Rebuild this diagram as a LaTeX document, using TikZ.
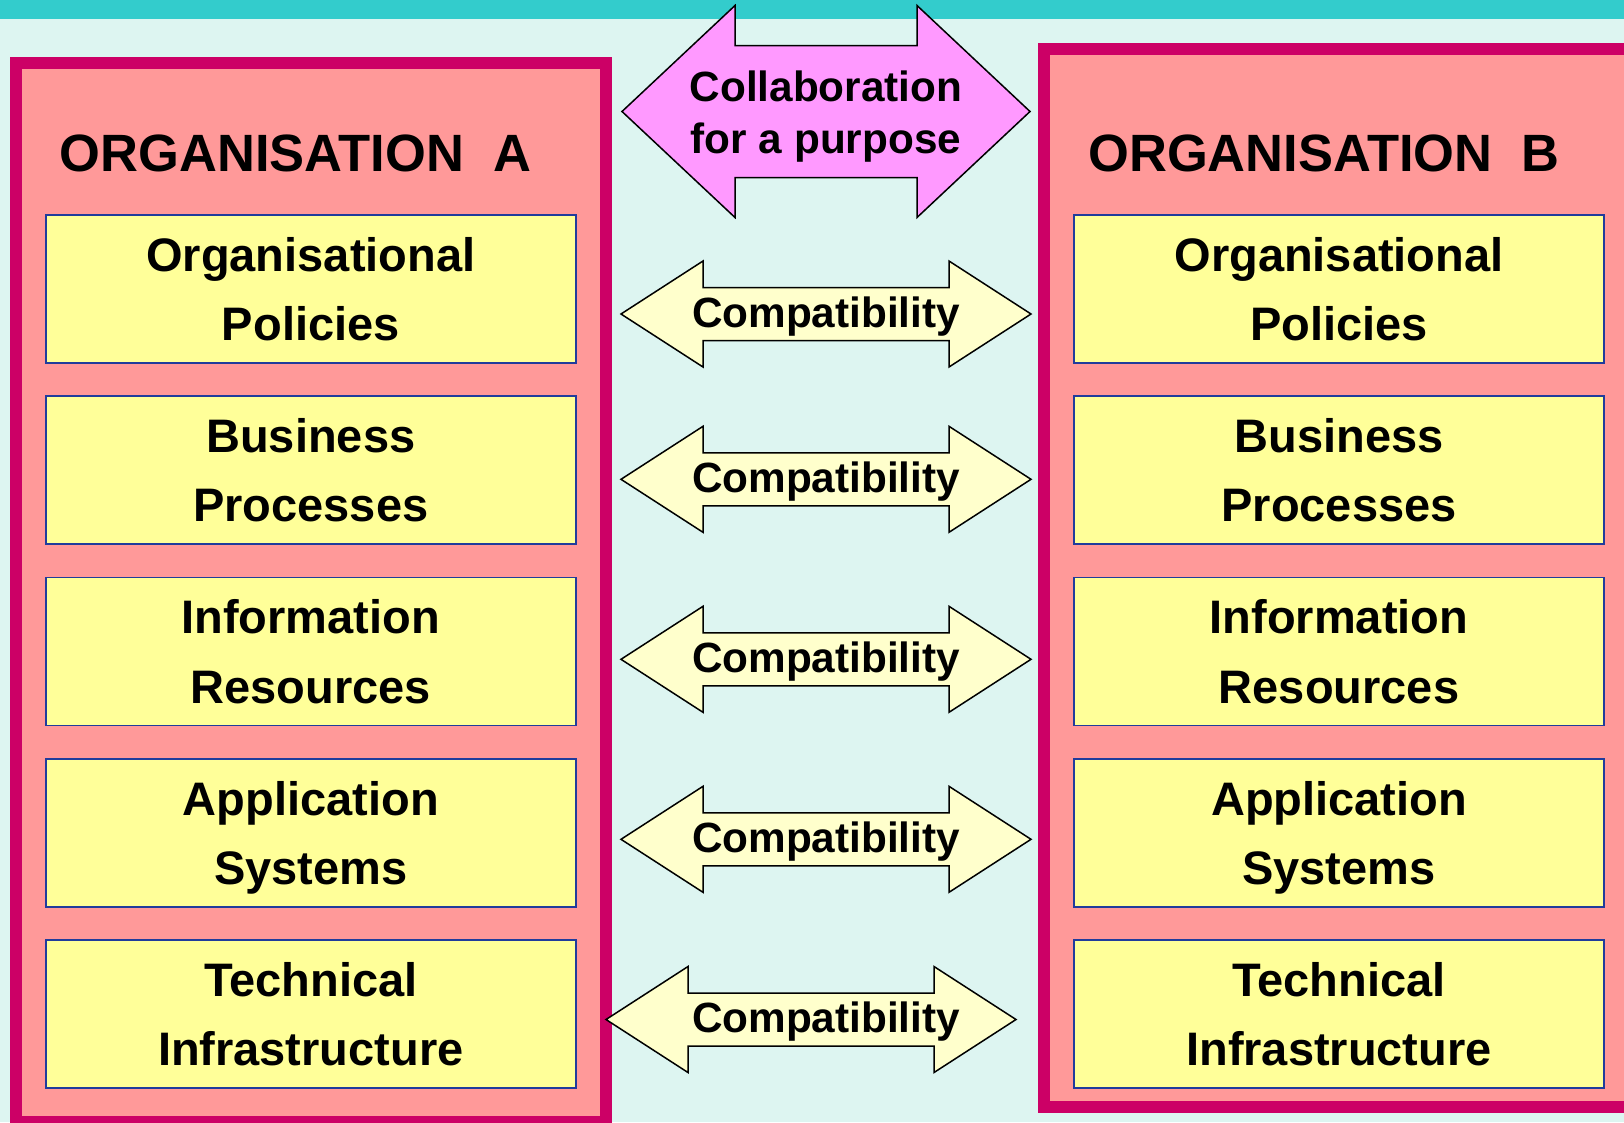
\documentclass[tikz,border=0pt]{standalone}
\usepackage{fontspec}
\setmainfont{Liberation Sans}
\usepackage{tikz}
\usetikzlibrary{positioning}

\definecolor{barTeal}{HTML}{33CCCC}
\definecolor{paleBg}{HTML}{DDF5F1}
\definecolor{orgBorder}{HTML}{CC0066}
\definecolor{orgFill}{HTML}{FF9999}
\definecolor{layerFill}{HTML}{FFFF99}
\definecolor{layerBorder}{HTML}{203C9C}
\definecolor{collabFill}{HTML}{FF99FF}
\definecolor{compatFill}{HTML}{FFFFCC}

\begin{document}
\begin{tikzpicture}[x=1pt, y=-1pt]
  \tikzstyle{org} = [draw=orgBorder, line width=12pt, fill=orgFill, rectangle, inner sep=0pt];
  \tikzstyle{orgTitle} = [anchor=base, inner sep=0pt, font={\bfseries\fontsize{52.5}{60}\selectfont}];
  \tikzstyle{layer} = [draw=layerBorder, line width=1.8pt, fill=layerFill, rectangle, minimum width=530pt, minimum height=148pt, inner sep=0pt, align=center, text depth=0pt, node distance=181.4pt, font={\bfseries\fontsize{47}{69.3}\selectfont}];

  \tikzstyle{arrowEdge} = [draw=black, line width=1.5pt, line join=miter];
  \tikzstyle{compat} = [arrowEdge, fill=compatFill];
  \tikzstyle{collab} = [arrowEdge, fill=collabFill];
  \tikzstyle{arrowLabel} = [inner sep=0pt, align=center, text depth=0pt, yshift=2pt, font={\bfseries\fontsize{42.3}{51.5}\selectfont}];

  \useasboundingbox (0,0) rectangle (1624,1122);
  \clip (0,0) rectangle (1624,1122);
  \fill[paleBg] (0,0) rectangle (1624,1122);
  \fill[barTeal] (0,0) rectangle (1624,19);

  % the two organisations
  \node[org, minimum width=590pt, minimum height=1059pt] (orgA) at (311,592.5) {};
  \node[org, minimum width=596pt, minimum height=1058pt] (orgB) at (1342,577.5) {};

  \node[orgTitle] (titleA) at (295.5,171) {ORGANISATION~~A};
  \node[orgTitle] (titleB) at (1324,171) {ORGANISATION~~B};

  \node[layer] (A1) at (310.8,288.7) {Organisational\\Policies};
  \node[layer] (A2) [below of=A1] {Business\\Processes};
  \node[layer] (A3) [below of=A2] {Information\\Resources};
  \node[layer] (A4) [below of=A3] {Application\\Systems};
  \node[layer] (A5) [below of=A4] {Technical\\Infrastructure};

  \node[layer] (B1) at (1339,288.7) {Organisational\\Policies};
  \node[layer] (B2) [below of=B1] {Business\\Processes};
  \node[layer] (B3) [below of=B2] {Information\\Resources};
  \node[layer] (B4) [below of=B3] {Application\\Systems};
  \node[layer] (B5) [below of=B4] {Technical\\Infrastructure};

  % block arrows between them
  \coordinate (purpose) at (826,111.5);
  \coordinate (link1) at (826,314);
  \coordinate (link2) at (826,479.3);
  \coordinate (link3) at (826,659.3);
  \coordinate (link4) at (826,839.3);
  \coordinate (link5) at (811,1019.5);

  \draw[collab] (purpose) ++(-204,0) -- ++(113,-106) -- ++(0,40) -- ++(182,0) -- ++(0,-40) -- ++(113,106)
        -- ++(-113,106) -- ++(0,-40) -- ++(-182,0) -- ++(0,40) -- cycle;
  \draw[compat] (link1) ++(-205,0) -- ++(82,-53) -- ++(0,26.5) -- ++(246,0) -- ++(0,-26.5) -- ++(82,53)
        -- ++(-82,53) -- ++(0,-26.5) -- ++(-246,0) -- ++(0,26.5) -- cycle;
  \draw[compat] (link2) ++(-205,0) -- ++(82,-53) -- ++(0,26.5) -- ++(246,0) -- ++(0,-26.5) -- ++(82,53)
        -- ++(-82,53) -- ++(0,-26.5) -- ++(-246,0) -- ++(0,26.5) -- cycle;
  \draw[compat] (link3) ++(-205,0) -- ++(82,-53) -- ++(0,26.5) -- ++(246,0) -- ++(0,-26.5) -- ++(82,53)
        -- ++(-82,53) -- ++(0,-26.5) -- ++(-246,0) -- ++(0,26.5) -- cycle;
  \draw[compat] (link4) ++(-205,0) -- ++(82,-53) -- ++(0,26.5) -- ++(246,0) -- ++(0,-26.5) -- ++(82,53)
        -- ++(-82,53) -- ++(0,-26.5) -- ++(-246,0) -- ++(0,26.5) -- cycle;
  \draw[compat] (link5) ++(-205,0) -- ++(82,-53) -- ++(0,26.5) -- ++(246,0) -- ++(0,-26.5) -- ++(82,53)
        -- ++(-82,53) -- ++(0,-26.5) -- ++(-246,0) -- ++(0,26.5) -- cycle;

  \node[arrowLabel] (purposeText) at (826,114) {Collaboration\\for a purpose};
  \node[arrowLabel] (link1Text) at (link1) {Compatibility};
  \node[arrowLabel] (link2Text) at (link2) {Compatibility};
  \node[arrowLabel] (link3Text) at (link3) {Compatibility};
  \node[arrowLabel] (link4Text) at (link4) {Compatibility};
  \node[arrowLabel] (link5Text) at (826,1019.5) {Compatibility};
\end{tikzpicture}
\end{document}
